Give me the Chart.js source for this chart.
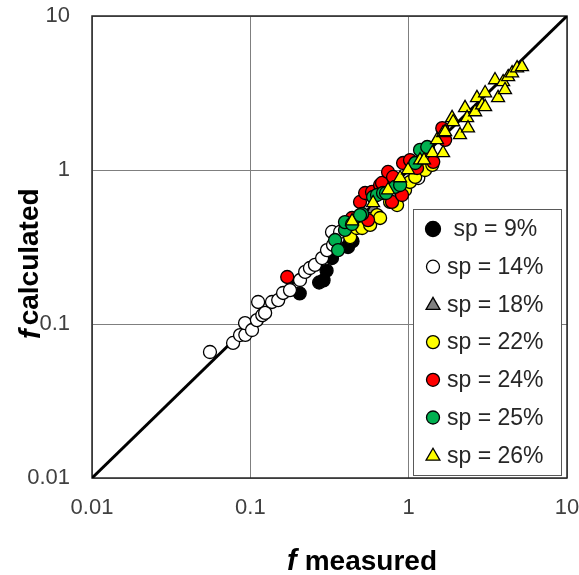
<!DOCTYPE html>
<html>
<head>
<meta charset="utf-8">
<script src="https://cdn.jsdelivr.net/npm/chart.js@4/dist/chart.umd.min.js"></script>
<style>
  body { margin: 0; background: #fff; }
  canvas { display: block; }
</style>
</head>
<body>
<canvas id="myChart" width="579" height="575"></canvas>
<script>
// decade ticks on both log axes
var tickValues = [0.01, 0.1, 1, 10];
var tickLabels = ['0.01', '0.1', '1', '10'];

// 1:1 reference line
var lineX = [0.01, 10];
var lineY = [0.01, 10];

var seriesNames = [' sp = 9%', 'sp = 14%', 'sp = 18%', 'sp = 22%', 'sp = 24%', 'sp = 25%', 'sp = 26%'];

// measured / calculated f for each solids content
var sp9X = [0.205, 0.272, 0.290, 0.303, 0.328, 0.414, 0.442];
var sp9Y = [0.158, 0.186, 0.192, 0.222, 0.268, 0.316, 0.345];

var sp14X = [0.0556, 0.0778, 0.0861, 0.093, 0.0926, 0.1025, 0.110, 0.112, 0.119, 0.124, 0.137, 0.150, 0.161, 0.178, 0.206, 0.222, 0.238, 0.256, 0.284, 0.305, 0.333, 0.358, 0.328, 0.369, 1.15];
var sp14Y = [0.0658, 0.0753, 0.0848, 0.085, 0.1014, 0.0914, 0.106, 0.139, 0.114, 0.118, 0.139, 0.143, 0.159, 0.166, 0.193, 0.218, 0.231, 0.242, 0.268, 0.302, 0.326, 0.362, 0.396, 0.396, 0.887];

var sp18X = [0.60, 0.80];
var sp18Y = [0.56, 0.75];

var sp22X = [0.427, 0.47, 0.508, 0.571, 0.631, 0.660, 0.763, 0.845, 0.883, 0.949, 1.02, 1.10, 1.27, 1.41];
var sp22Y = [0.367, 0.42, 0.420, 0.440, 0.510, 0.488, 0.620, 0.592, 0.741, 0.741, 0.836, 0.901, 1.00, 1.08];

var sp24X = [0.171, 0.439, 0.493, 0.531, 0.554, 0.587, 0.660, 0.679, 0.741, 0.785, 0.797, 0.908, 0.922, 1.02, 1.13, 1.22, 1.33, 1.43, 1.63, 1.70];
var sp24Y = [0.202, 0.488, 0.620, 0.709, 0.473, 0.720, 0.799, 0.824, 0.971, 0.620, 0.901, 0.688, 1.11, 1.16, 1.03, 1.35, 1.35, 1.13, 1.87, 1.57];

var sp25X = [0.343, 0.358, 0.396, 0.396, 0.439, 0.508, 0.493, 0.596, 0.631, 0.689, 0.720, 0.820, 0.883, 1.10, 1.18, 1.31];
var sp25Y = [0.351, 0.302, 0.408, 0.459, 0.446, 0.518, 0.510, 0.668, 0.688, 0.709, 0.709, 0.776, 0.799, 1.11, 1.35, 1.41];

var sp26X = [0.439, 0.596, 0.741, 0.883, 0.991, 1.18, 1.25, 1.41, 1.51, 1.65, 1.65, 1.70, 1.88, 1.91, 2.11, 2.27, 2.34, 2.37, 2.63, 2.70, 2.91, 3.04, 3.04, 3.51, 3.67, 3.95, 4.06, 4.25, 4.50, 4.84, 5.20];
var sp26Y = [0.466, 0.611, 0.741, 0.887, 1.00, 1.16, 1.16, 1.29, 1.57, 1.29, 1.74, 1.77, 2.18, 2.05, 1.69, 2.53, 2.18, 1.87, 2.38, 2.94, 2.64, 3.16, 2.57, 3.84, 2.94, 3.73, 3.31, 4.02, 4.26, 4.59, 4.67];

var fontFamily = '"Liberation Sans", Arial, sans-serif';

function toPoints(xs, ys) {
    var pts = [];
    for (var i = 0; i < xs.length; i++) {
        pts.push({ x: xs[i], y: ys[i] });
    }
    return pts;
}

function series(name, xs, ys, fill, style, order) {
    return {
        label: name,
        data: toPoints(xs, ys),
        pointStyle: style,
        pointRadius: style == 'triangle' ? 7.5 : 6.5,
        pointBackgroundColor: fill,
        pointBorderColor: '#000',
        pointBorderWidth: 1.3,
        backgroundColor: fill,
        borderColor: '#000',
        showLine: false,
        order: order
    };
}

var datasets = [
    {
        label: 'line',
        data: toPoints(lineX, lineY),
        showLine: true,
        borderColor: '#000',
        borderWidth: 3,
        pointRadius: 0,
        order: 10
    },
    series(seriesNames[0], sp9X, sp9Y, '#000000', 'circle', 7),
    series(seriesNames[1], sp14X, sp14Y, '#ffffff', 'circle', 6),
    series(seriesNames[2], sp18X, sp18Y, '#808080', 'triangle', 5),
    series(seriesNames[3], sp22X, sp22Y, '#ffff00', 'circle', 4),
    series(seriesNames[4], sp24X, sp24Y, '#ff0000', 'circle', 3),
    series(seriesNames[5], sp25X, sp25Y, '#00b050', 'circle', 2),
    series(seriesNames[6], sp26X, sp26Y, '#ffff00', 'triangle', 1)
];

// outer frame of the plot area
var framePlugin = {
    id: 'frame',
    beforeDatasetsDraw: function(chart) {
        var a = chart.chartArea;
        var ctx = chart.ctx;
        ctx.save();
        ctx.strokeStyle = '#262626';
        ctx.lineWidth = 1.5;
        ctx.strokeRect(a.left, a.top, a.right - a.left, a.bottom - a.top);
        ctx.restore();
    }
};

// boxed legend sitting in the lower right corner of the plot
var legendPlugin = {
    id: 'boxLegend',
    afterDatasetsDraw: function(chart) {
        var ctx = chart.ctx;
        var left = 413, top = 209, w = 148, h = 266;
        ctx.save();
        ctx.fillStyle = '#fff';
        ctx.fillRect(left, top, w, h);
        ctx.strokeStyle = '#595959';
        ctx.lineWidth = 1;
        ctx.strokeRect(left + 0.5, top + 0.5, w, h);

        ctx.font = '23px ' + fontFamily;
        ctx.textBaseline = 'middle';
        ctx.textAlign = 'left';
        for (var i = 1; i < chart.data.datasets.length; i++) {
            var ds = chart.data.datasets[i];
            var y = 229 + (i - 1) * 37.7;
            var tri = ds.pointStyle == 'triangle';
            ctx.fillStyle = ds.pointBackgroundColor;
            ctx.strokeStyle = '#000';
            ctx.lineWidth = 1.3;
            Chart.helpers.drawPoint(ctx, {
                pointStyle: ds.pointStyle,
                radius: tri ? 8 : (i == 1 ? 7.5 : 6.5),
                rotation: 0,
                borderWidth: 1.3
            }, 433, tri ? y + 1 : y);
            ctx.fillStyle = '#262626';
            ctx.fillText(ds.label, 447, y + 1);
        }
        ctx.restore();
    }
};

// axis titles with the italic f
var titlePlugin = {
    id: 'axisTitles',
    afterDraw: function(chart) {
        var ctx = chart.ctx;
        ctx.save();
        ctx.fillStyle = '#000';
        ctx.textBaseline = 'alphabetic';
        ctx.textAlign = 'left';

        var fFont = 'italic bold 29px ' + fontFamily;
        var wordFont = 'bold 28px ' + fontFamily;

        ctx.font = fFont;
        var fw = ctx.measureText('f ').width;
        ctx.font = wordFont;
        var ww = ctx.measureText('measured').width;
        var x0 = 362 - (fw + ww) / 2;
        ctx.font = fFont;
        ctx.fillText('f ', x0, 570);
        ctx.font = wordFont;
        ctx.fillText('measured', x0 + fw, 570);

        ctx.translate(38, 339);
        ctx.rotate(-Math.PI / 2);
        ctx.font = fFont;
        ctx.fillText('f', 0, 2);
        var fw2 = ctx.measureText('f').width;
        ctx.font = wordFont;
        ctx.fillText('calculated', fw2 + 4, 0);
        ctx.restore();
    }
};

function decadeTicks(scale) {
    scale.ticks = tickValues.map(function(v) { return { value: v }; });
}

function tickLabel(value, index) {
    return tickLabels[index];
}

function graph() {
    var ctx = document.getElementById('myChart').getContext('2d');
    var chart = new Chart(ctx, {
        type: 'scatter',
        data: { datasets: datasets },
        options: {
            responsive: false,
            animation: false,
            layout: { padding: { top: 16, right: 12, left: 0, bottom: 0 } },
            plugins: {
                legend: { display: false },
                tooltip: { enabled: false }
            },
            scales: {
                x: {
                    type: 'logarithmic',
                    min: 0.01,
                    max: 10,
                    afterBuildTicks: decadeTicks,
                    afterFit: function(scale) {
                        scale.height = 97;
                        scale.paddingLeft = 0;
                        scale.paddingRight = 0;
                    },
                    grid: { color: '#7f7f7f', lineWidth: 1, drawTicks: false },
                    border: { display: false },
                    ticks: {
                        autoSkip: false,
                        maxRotation: 0,
                        padding: 17,
                        color: '#404040',
                        font: { family: fontFamily, size: 22 },
                        callback: tickLabel
                    }
                },
                y: {
                    type: 'logarithmic',
                    min: 0.01,
                    max: 10,
                    afterBuildTicks: decadeTicks,
                    afterFit: function(scale) {
                        scale.width = 92;
                        scale.paddingTop = 0;
                        scale.paddingBottom = 0;
                    },
                    grid: { color: '#7f7f7f', lineWidth: 1, drawTicks: false },
                    border: { display: false },
                    ticks: {
                        autoSkip: false,
                        padding: 22,
                        color: '#404040',
                        font: { family: fontFamily, size: 22 },
                        callback: tickLabel
                    }
                }
            }
        },
        plugins: [framePlugin, legendPlugin, titlePlugin]
    });
}
graph();
</script>
</body>
</html>
